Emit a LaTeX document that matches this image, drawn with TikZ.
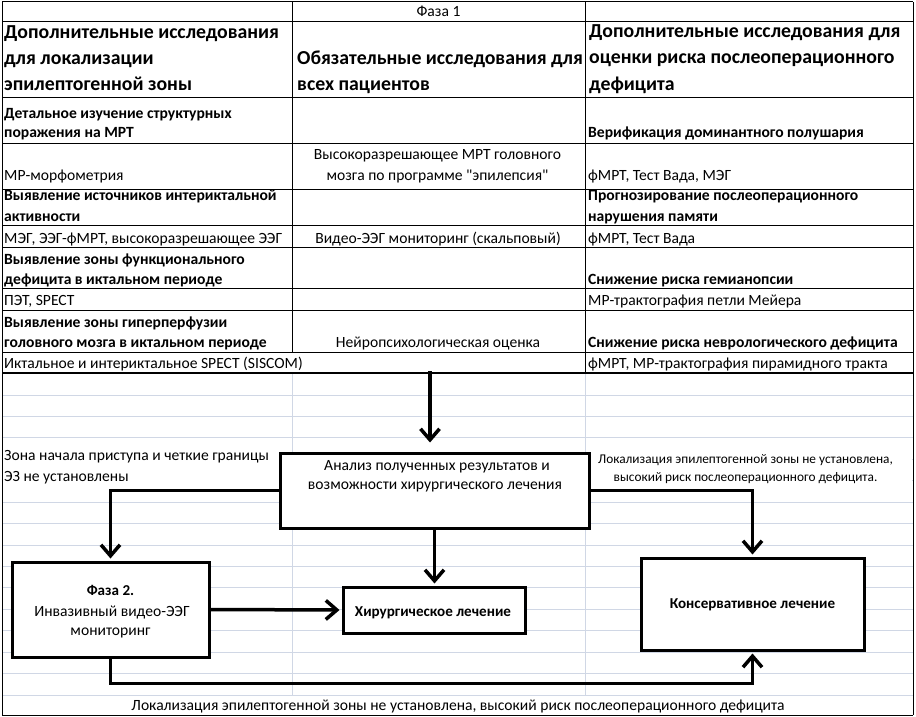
\documentclass[tikz,border=0pt]{standalone}
\usepackage{fontspec}
\setmainfont{Carlito}[Ligatures=TeXOff]
\usetikzlibrary{arrows.meta}
\definecolor{gridc}{HTML}{D0D7E5}
\begin{document}
\begin{tikzpicture}[x=1pt,y=-1pt,
  gridln/.style={draw=gridc, line width=0.9pt},
  tline/.style={draw=black, line width=1pt},
  txt/.style={inner sep=0pt, font=\fontsize{15.6}{18}\selectfont},
  btxt/.style={inner sep=0pt, font=\fontsize{15.6}{18}\selectfont\bfseries},
  bbtxt/.style={inner sep=0pt, font=\fontsize{15.1}{18}\selectfont\bfseries},
  htxt/.style={inner sep=0pt, font=\fontsize{19.8}{23}\selectfont\bfseries},
  stxt/.style={inner sep=0pt, font=\fontsize{13.33}{16}\selectfont},
  fbox/.style={draw=black, fill=white, line width=3pt, inner sep=0pt},
  arr/.style={line width=3.5pt, -{Straight Barb[length=11pt,width=19pt]}, shorten >=2pt},
]
\useasboundingbox (0,0) rectangle (916,717);
\fill[white] (0,0) rectangle (916,717);

% lower spreadsheet gridlines
\foreach \k in {0,...,14} {\draw[gridln] (2,{395+21.43*\k}) -- (913,{395+21.43*\k});}
\draw[gridln] (292,373) -- (292,695);
\draw[gridln] (585,373) -- (585,695);

% white text areas hiding gridlines
\fill[white] (3,440) rectangle (279,484);
\fill[white] (591,440) rectangle (912,484);
\fill[white] (3,696) rectangle (912,714);

% table lines
\foreach \y in {2,22,97,143,189,225,247,288,310,352} {\draw[tline] (2,\y) -- (913,\y);}
\draw[draw=black, line width=2.8pt] (2,373) -- (913,373);
\draw[tline] (2,2) -- (2,715);
\draw[tline] (913,2) -- (913,715);
\draw[tline] (2,715) -- (913,715);
\draw[tline] (292,2) -- (292,352);
\draw[tline] (585,2) -- (585,373);

% row 1
\node[txt, anchor=base] (f1) at (438.5,17) {Фаза 1};
% header
\node[htxt, anchor=base west] (ha1) at (4,39) {Дополнительные исследования};
\node[htxt, anchor=base west] (ha2) at (4,65) {для локализации};
\node[htxt, anchor=base west] (ha3) at (4,91) {эпилептогенной зоны};
\node[htxt, anchor=base west] (hb1) at (297,65) {Обязательные исследования для};
\node[htxt, anchor=base west] (hb2) at (297,91) {всех пациентов};
\node[htxt, anchor=base west] (hc1) at (589,38) {Дополнительные исследования для};
\node[htxt, anchor=base west] (hc2) at (589,64) {оценки риска послеоперационного};
\node[htxt, anchor=base west] (hc3) at (589,90) {дефицита};
% row 3
\node[btxt, anchor=base west] (a3a) at (4,118) {Детальное изучение структурных};
\node[btxt, anchor=base west] (a3b) at (4,137) {поражения на МРТ};
\node[btxt, anchor=base west] (c3) at (588,137) {Верификация доминантного полушария};
% row 4
\node[txt, anchor=base west] (a4) at (4,180) {МР-морфометрия};
\node[txt, anchor=base] (b4a) at (437.5,159) {Высокоразрешающее МРТ головного};
\node[txt, anchor=base] (b4b) at (437.5,180) {мозга по программе "эпилепсия"};
\node[txt, anchor=base west] (c4) at (588,180) {фМРТ, Тест Вада, МЭГ};
% row 5
\node[btxt, anchor=base west] (a5a) at (4,200) {Выявление источников интериктальной};
\node[btxt, anchor=base west] (a5b) at (4,221) {активности};
\node[btxt, anchor=base west] (c5a) at (588,200) {Прогнозирование послеоперационного};
\node[btxt, anchor=base west] (c5b) at (588,221) {нарушения памяти};
% row 6
\node[txt, anchor=base west] (a6) at (4,243) {МЭГ, ЭЭГ-фМРТ, высокоразрешающее ЭЭГ};
\node[txt, anchor=base] (b6) at (438,243) {Видео-ЭЭГ мониторинг (скальповый)};
\node[txt, anchor=base west] (c6) at (588,243) {фМРТ, Тест Вада};
% row 7
\node[btxt, anchor=base west] (a7a) at (4,264) {Выявление зоны функционального};
\node[btxt, anchor=base west] (a7b) at (4,284) {дефицита в иктальном периоде};
\node[btxt, anchor=base west] (c7) at (588,284) {Снижение риска гемианопсии};
% row 8
\node[txt, anchor=base west] (a8) at (4,305) {ПЭТ, SPECT};
\node[txt, anchor=base west] (c8) at (588,305) {МР-трактография петли Мейера};
% row 9
\node[btxt, anchor=base west] (a9a) at (4,327) {Выявление зоны гиперперфузии};
\node[btxt, anchor=base west] (a9b) at (4,347) {головного мозга в иктальном периоде};
\node[txt, anchor=base] (b9) at (438,347) {Нейропсихологическая оценка};
\node[btxt, anchor=base west] (c9) at (588,347) {Снижение риска неврологического дефицита};
% row 10
\node[txt, anchor=base west] (a10) at (4,368) {Иктальное и интериктальное SPECT (SISCOM)};
\node[txt, anchor=base west] (c10) at (588,368) {фМРТ, МР-трактография пирамидного тракта};

% flow boxes
\node[fbox, minimum width=309pt, minimum height=75pt] (an) at (434.5,490.5) {};
\node[fbox, minimum width=197pt, minimum height=95pt] (ph2) at (110.5,609.5) {};
\node[fbox, minimum width=182pt, minimum height=46pt] (sur) at (434,610) {};
\node[fbox, minimum width=223pt, minimum height=92pt] (cons) at (752.5,604) {};

% flow texts
\node[txt, anchor=base] (ant1) at (437,470) {Анализ полученных результатов и};
\node[txt, anchor=base] (ant2) at (435,489) {возможности хирургического лечения};
\node[bbtxt, anchor=base] (pht1) at (110.5,595) {Фаза 2.};
\node[txt, anchor=base] (pht2) at (112,616) {Инвазивный видео-ЭЭГ};
\node[txt, anchor=base] (pht3) at (110.5,635) {мониторинг};
\node[bbtxt, anchor=base] (surt) at (433,616) {Хирургическое лечение};
\node[bbtxt, anchor=base] (const) at (752.5,608) {Консервативное лечение};
\node[txt, anchor=base west] (l1a) at (4,460) {Зона начала приступа и четкие границы};
\node[txt, anchor=base west] (l1b) at (4,481) {ЭЗ не установлены};
\node[stxt, anchor=base] (r1a) at (745.5,463) {Локализация эпилептогенной зоны не установлена,};
\node[stxt, anchor=base] (r1b) at (745.5,481) {высокий риск послеоперационного дефицита.};
\node[txt, anchor=base] (bt) at (458,710) {Локализация эпилептогенной зоны не установлена, высокий риск послеоперационного дефицита};

% connectors
\coordinate (tabbot) at (430,371);
\draw[arr, shorten >=9pt] (tabbot) -- (tabbot |- an.north);
\draw[arr] (an.west) -| (ph2.north);
\draw[arr] (an.east) -| (cons.north);
\draw[arr] (an.south) -- (an.south |- sur.north);
\draw[arr] (ph2.east) -- (sur.west);
\draw[arr] (ph2.south) -- ++(0,25) -| (cons.south);
\end{tikzpicture}
\end{document}
